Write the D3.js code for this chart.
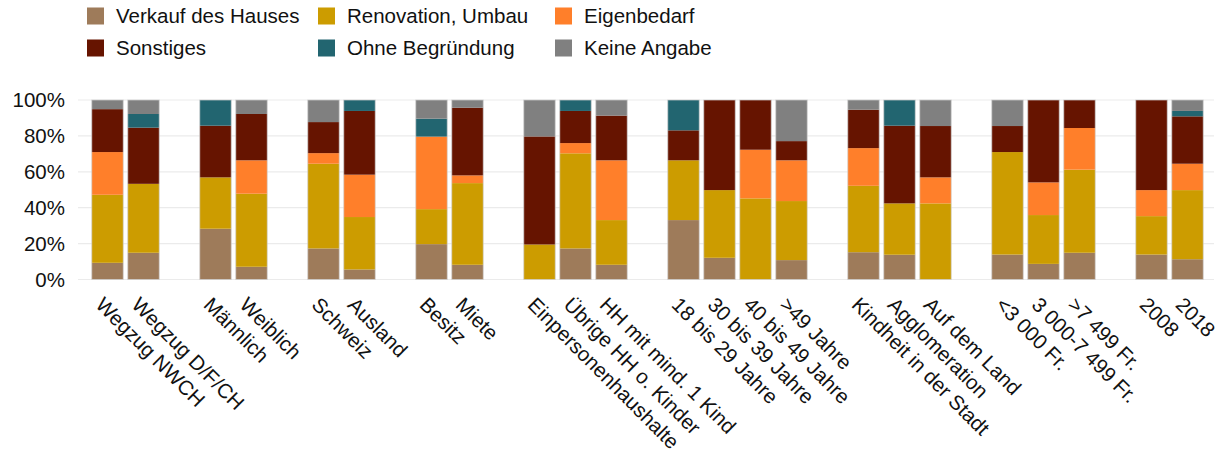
<!DOCTYPE html>
<html>
<head>
<meta charset="utf-8">
<script src="https://cdn.jsdelivr.net/npm/d3@7"></script>
<style>
  html, body { margin: 0; padding: 0; background: #fff; }
  svg { display: block; font-family: "Liberation Sans", Arial, sans-serif; }
</style>
</head>
<body>
<svg id="chart" width="1219" height="461"></svg>
<script>
// ---- data ----
const categories = [
  "Wegzug  NWCH", "Wegzug D/F/CH", null,
  "Männlich", "Weiblich", null,
  "Schweiz", "Ausland", null,
  "Besitz", "Miete", null,
  "Einpersonenhaushalte", "Übrige HH o. Kinder", "HH mit mind. 1 Kind", null,
  "18 bis 29 Jahre", "30 bis 39 Jahre", "40 bis 49 Jahre", ">49 Jahre", null,
  "Kindheit in der Stadt", "Agglomeration", "Auf dem Land", null,
  "<3 000 Fr.", "3 000-7 499 Fr.", ">7 499 Fr.", null,
  "2008", "2018"
];
const seriesNames = ["Verkauf des Hauses", "Renovation, Umbau", "Eigenbedarf", "Sonstiges", "Ohne Begründung", "Keine Angabe"];
const seriesColors = ["#9e7b5a", "#cc9c00", "#ff7f2a", "#661400", "#226570", "#808080"];

const verkauf     = [9.3, 14.9, null, 28.3, 7.1, null, 17.3, 5.6, null, 19.7, 8.2, null, 0, 17.3, 8.2, null, 33.1, 12.1, 0, 10.8, null, 15.2, 13.8, 0, null, 13.9, 8.7, 14.9, null, 13.9, 11.3];
const renovation  = [37.9, 38.4, null, 28.6, 40.7, null, 47.2, 29.2, null, 19.5, 45.5, null, 19.5, 53.0, 24.9, null, 33.3, 37.7, 45.2, 32.9, null, 37.0, 28.6, 42.4, null, 57.1, 27.2, 46.3, null, 21.4, 38.5];
const eigenbedarf = [23.8, 0, null, 0, 18.6, null, 5.9, 23.6, null, 40.4, 4.3, null, 0, 5.7, 33.3, null, 0, 0, 27.1, 22.7, null, 21.0, 0, 14.5, null, 0, 18.2, 23.2, null, 14.5, 14.7];
const sonstiges   = [23.9, 31.3, null, 28.8, 25.8, null, 17.3, 35.5, null, 0, 37.7, null, 60.2, 17.9, 24.9, null, 16.7, 50.2, 27.7, 10.7, null, 21.4, 43.3, 28.6, null, 14.5, 45.9, 15.6, null, 50.2, 26.4];
const ohne        = [0, 7.6, null, 14.3, 0, null, 0, 6.1, null, 10.0, 0, null, 0, 6.1, 0, null, 16.9, 0, 0, 0, null, 0, 14.3, 0, null, 0, 0, 0, null, 0, 3.0];
const keine       = [5.1, 7.8, null, 0, 7.8, null, 12.3, 0, null, 10.4, 4.3, null, 20.3, 0, 8.7, null, 0, 0, 0, 22.9, null, 5.4, 0, 14.5, null, 14.5, 0, 0, null, 0, 6.1];
const yTicks = [0, 20, 40, 60, 80, 100];

const seriesValues = [verkauf, renovation, eigenbedarf, sonstiges, ohne, keine];

// ---- build table ----
const rows = categories.map((c, i) => {
  const r = { slot: i, name: c };
  seriesNames.forEach((s, j) => { r[s] = seriesValues[j][i] || 0; });
  return r;
}).filter(r => r.name !== null);

const svg = d3.select("#chart");

const x = d3.scaleBand()
  .domain(categories.map((c, i) => i))
  .range([89.5, 1205.5])
  .paddingInner(0.125)
  .paddingOuter(0.0625);

const y = d3.scaleLinear().domain([0, 100]).range([279.5, 100]);

// gridlines
svg.append("g").selectAll("line").data(yTicks).join("line")
  .attr("x1", 78).attr("x2", 1214)
  .attr("y1", d => y(d)).attr("y2", d => y(d))
  .attr("stroke", "#ebebeb").attr("stroke-width", 1.2);

// y tick labels
svg.append("g").selectAll("text").data(yTicks).join("text")
  .attr("x", 65).attr("y", d => y(d))
  .attr("dy", "0.36em")
  .attr("text-anchor", "end")
  .attr("font-size", 20.5)
  .attr("fill", "#111")
  .text(d => d + "%");

// stacks
const stack = d3.stack().keys(seriesNames);
const stacked = stack(rows);

const g = svg.append("g");
stacked.forEach((layer, j) => {
  g.append("g").selectAll("rect").data(layer.filter(d => d[1] - d[0] > 0)).join("rect")
    .attr("x", d => x(d.data.slot))
    .attr("width", x.bandwidth())
    .attr("y", d => y(d[1]))
    .attr("height", d => y(d[0]) - y(d[1]))
    .attr("fill", seriesColors[j]);
});
// faint bar outlines
g.append("g").selectAll("rect").data(rows).join("rect")
  .attr("x", d => x(d.slot))
  .attr("width", x.bandwidth())
  .attr("y", y(100))
  .attr("height", y(0) - y(100))
  .attr("fill", "none")
  .attr("stroke", "#d0d0d0")
  .attr("stroke-opacity", 0.7)
  .attr("stroke-width", 1);

// x labels
svg.append("g").selectAll("text").data(rows).join("text")
  .attr("transform", d => `translate(${x(d.slot) + x.bandwidth() / 2 - 8},301) rotate(45)`)
  .attr("dy", "0.35em")
  .attr("text-anchor", "start")
  .attr("font-size", 20.5)
  .attr("fill", "#111")
  .text(d => d.name);

// legend
const legCols = [87, 318, 555];
const legRows = [16, 48];
const legend = svg.append("g");
seriesNames.forEach((s, i) => {
  const cx = legCols[i % 3], cy = legRows[Math.floor(i / 3)];
  legend.append("rect")
    .attr("x", cx).attr("y", cy - 8.5)
    .attr("width", 17).attr("height", 17)
    .attr("fill", seriesColors[i]);
  legend.append("text")
    .attr("x", cx + 29).attr("y", cy)
    .attr("dy", "0.36em")
    .attr("font-size", 20.5)
    .attr("fill", "#111")
    .text(s);
});
</script>
</body>
</html>
